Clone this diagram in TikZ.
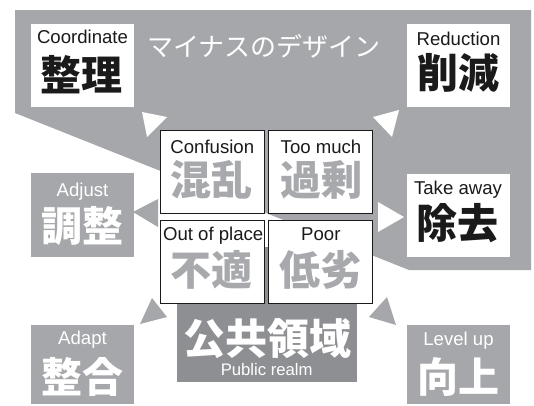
\documentclass[tikz,border=0pt]{standalone}
\usepackage{fontspec}
\setmainfont{Liberation Sans}
\newfontfamily\jp{Noto Sans CJK JP}
\definecolor{polygray}{HTML}{A6A7AB}
\definecolor{realmgray}{HTML}{8E8F93}
\definecolor{kanjigray}{HTML}{A8A9AD}
\definecolor{ink}{HTML}{1A1A1A}
\tikzset{
  boxbase/.style={inner sep=0pt, outer sep=0pt, minimum width=103pt},
  wbox/.style={boxbase, fill=white, minimum height=83pt},
  gbox/.style={boxbase, fill=polygray},
  cbox/.style={boxbase, fill=white, draw=ink, line width=0.9pt, minimum width=103.3pt, minimum height=82.3pt},
  en/.style={font=\fontsize{18.6}{18.6}\selectfont, anchor=base, inner sep=0pt},
  kj/.style={font=\jp\bfseries\fontsize{41}{41}\selectfont, inner sep=0pt},
  wtri/.style={fill=white},
  gtri/.style={fill=polygray},
}
\begin{document}
\begin{tikzpicture}[x=1pt,y=-1pt]
\useasboundingbox (0,0) rectangle (534,405);
% big gray background shape
\fill[polygray] (15,10) -- (531,10) -- (531,270) -- (409,270) -- (15,113) -- cycle;
% public realm box
\node[inner sep=0pt, outer sep=0pt, fill=realmgray, minimum width=180pt, minimum height=135pt] (realm) at (267,314.5) {};
% outer boxes
\node[wbox] (coord) at (82.5,65.5) {};
\node[wbox] (reduc) at (458.5,65.5) {};
\node[wbox] (take) at (458,215.5) {};
\node[gbox, minimum height=84pt] (adjust) at (82.5,215) {};
\node[gbox, minimum height=79pt] (adapt) at (82.5,364.5) {};
\node[gbox, minimum height=79pt] (level) at (458.5,364.5) {};
% central boxes
\node[cbox] (conf) at (212.3,171.9) {};
\node[cbox] (much) at (320.3,171.9) {};
\node[cbox] (outp) at (212.3,262) {};
\node[cbox] (poor) at (320.3,262) {};
% arrows (triangles)
\fill[wtri] (142,112) -- (167,117) -- (147,137) -- cycle;
\fill[wtri] (399,110) -- (373,117) -- (392,137) -- cycle;
\fill[wtri] (378,202) -- (404,217) -- (378,232) -- cycle;
\fill[gtri] (133,212) -- (158,199) -- (158,227) -- cycle;
\fill[gtri] (140,324) -- (152,298) -- (167,317) -- cycle;
\fill[gtri] (396,325) -- (387,297) -- (369,317) -- cycle;
% title
\node[font=\jp\fontsize{26}{26}\selectfont, text=white, inner sep=0pt] (title) at (264,46) {マイナスのデザイン};
% texts
\node[en, text=ink] (coordT) at (82.5,43.3) {Coordinate};
\node[kj, text=ink] (coordK) at (81.5,75) {整理};
\node[en, text=ink] (reducT) at (458.5,45) {Reduction};
\node[kj, text=ink] (reducK) at (458,73) {削減};
\node[en, text=ink] (takeT) at (458,194) {Take away};
\node[kj, text=ink] (takeK) at (457,223) {除去};
\node[en, text=white] (adjustT) at (82.5,196) {Adjust};
\node[kj, text=white] (adjustK) at (82.5,226) {調整};
\node[en, text=white] (adaptT) at (82.5,344) {Adapt};
\node[kj, text=white] (adaptK) at (82.5,377) {整合};
\node[en, text=white] (levelT) at (458.5,345.7) {Level up};
\node[kj, text=white] (levelK) at (458.5,377) {向上};
\node[en, text=ink] (confT) at (212.3,153.3) {Confusion};
\node[kj, text=kanjigray] (confK) at (211,180) {混乱};
\node[en, text=ink] (muchT) at (321,153.3) {Too much};
\node[kj, text=kanjigray] (muchK) at (321,180) {過剰};
\node[en, text=ink] (outpT) at (213.2,240) {Out of place};
\node[kj, text=kanjigray] (outpK) at (211.7,270) {不適};
\node[en, text=ink] (poorT) at (320.8,240) {Poor};
\node[kj, text=kanjigray] (poorK) at (320.3,270) {低劣};
\node[kj, text=white, font=\jp\bfseries\fontsize{42}{42}\selectfont] (realmK) at (267.5,338.3) {公共領域};
\node[en, text=white, font=\fontsize{16.7}{16.7}\selectfont] (realmT) at (266.7,375) {Public realm};
\end{tikzpicture}
\end{document}
